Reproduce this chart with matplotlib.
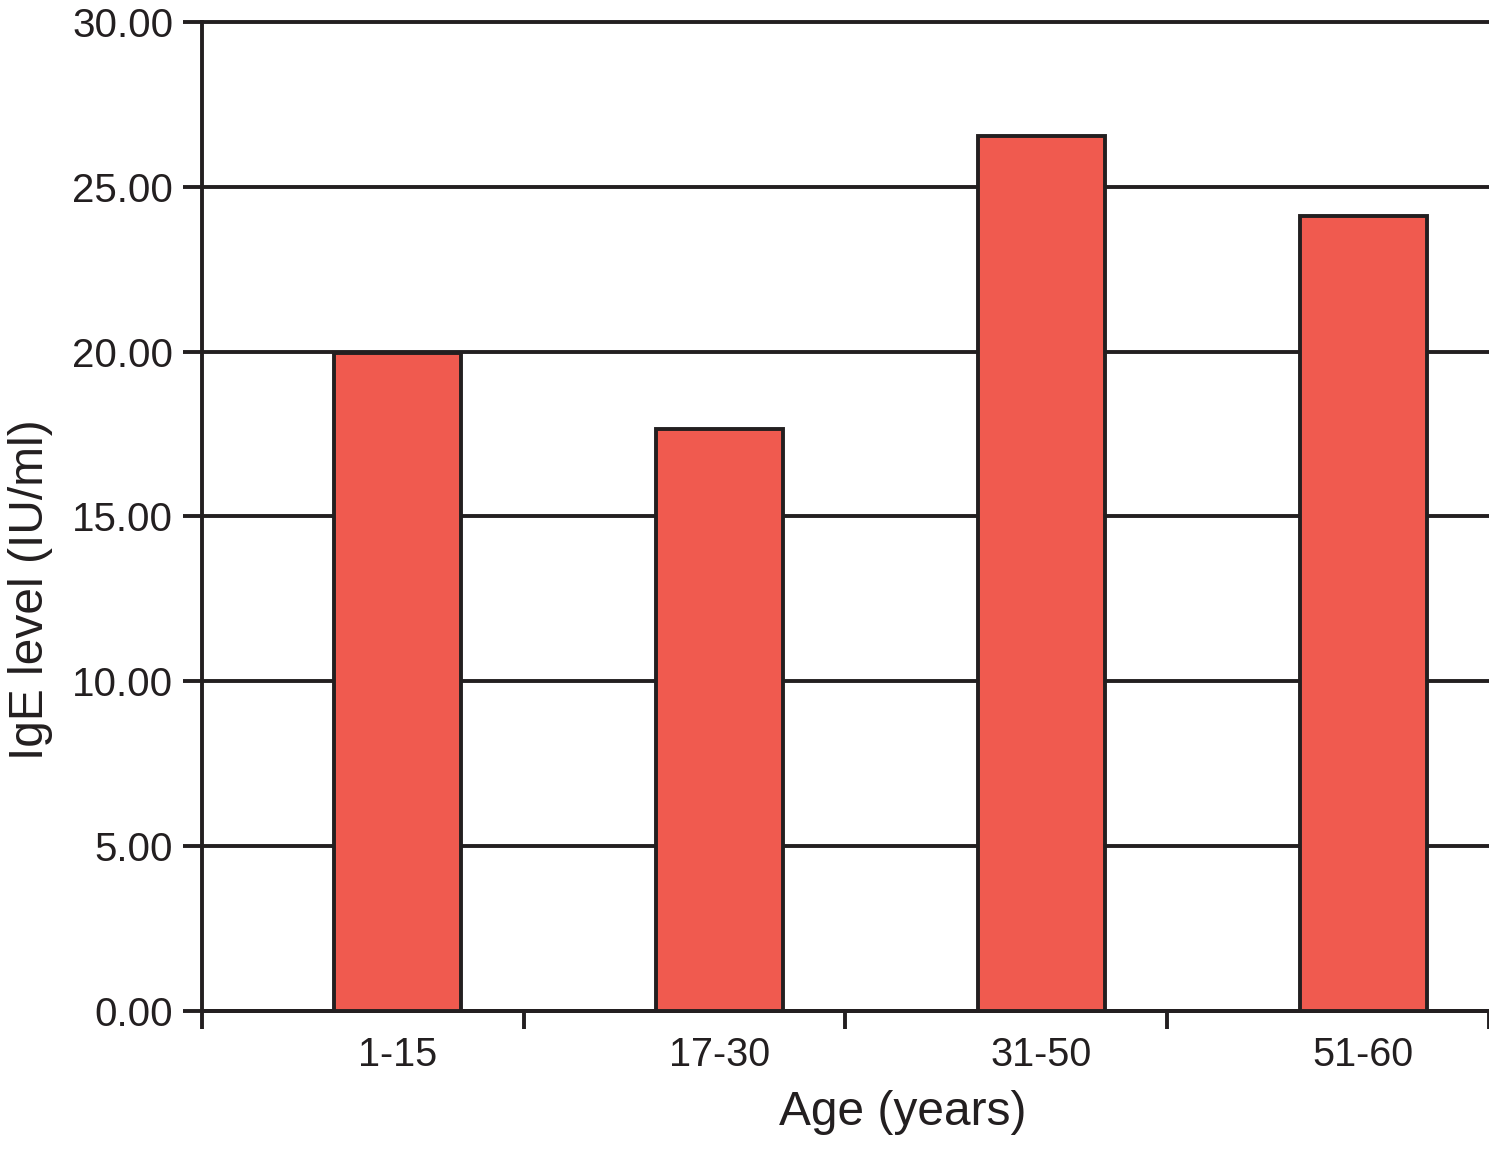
import numpy as np
import matplotlib
matplotlib.use('Agg')
import matplotlib.pyplot as plt

plt.rcParams['font.family'] = ['Liberation Sans', 'DejaVu Sans']

# data
age_groups = ['1-15', '17-30', '31-50', '51-60']
ige_level = [19.95, 17.65, 26.55, 24.12]
y_ticks = [0, 5, 10, 15, 20, 25, 30]

ink = '#231f20'
bar_color = '#f05a4f'
lw = 2.8

fig = plt.figure(figsize=(14.89, 11.51), dpi=100)
ax = fig.add_axes([0.13566, 0.12163, 0.86434, 0.85926])

x = np.arange(len(age_groups))
ax.bar(x + 0.609, ige_level, width=0.395, color=bar_color,
       edgecolor=ink, linewidth=lw, zorder=3)

ax.set_xlim(0, len(age_groups))
ax.set_ylim(0, 30)

ax.set_yticks(y_ticks)
ax.set_yticklabels(['%.2f' % v for v in y_ticks])
ax.yaxis.grid(True, color=ink, linewidth=lw, clip_on=False)
ax.set_axisbelow(True)

# major ticks mark the category borders, minor ticks carry the labels
ax.set_xticks(np.arange(len(age_groups) + 1))
ax.set_xticklabels([])
ax.set_xticks(x + 0.609, minor=True)
ax.set_xticklabels(age_groups, minor=True)

ax.tick_params(axis='x', which='major', direction='out', length=13,
               width=lw, color=ink)
ax.tick_params(axis='x', which='minor', length=0, pad=18,
               labelsize=28.5, labelcolor=ink)
ax.tick_params(axis='y', direction='out', length=13.7, width=lw,
               color=ink, pad=7, labelsize=29, labelcolor=ink)

for s in ['top', 'right']:
    ax.spines[s].set_visible(False)
for s in ['left', 'bottom']:
    ax.spines[s].set_linewidth(lw)
    ax.spines[s].set_color(ink)

ax.set_xlabel('Age (years)', fontsize=34.5, color=ink, va='center')
ax.xaxis.set_label_coords(0.5447, -0.103)
ax.set_ylabel('IgE level (IU/ml)', fontsize=34.5, color=ink, va='center')
ax.yaxis.set_label_coords(-0.1336, 0.4257)

plt.savefig('out.png', dpi=100)
